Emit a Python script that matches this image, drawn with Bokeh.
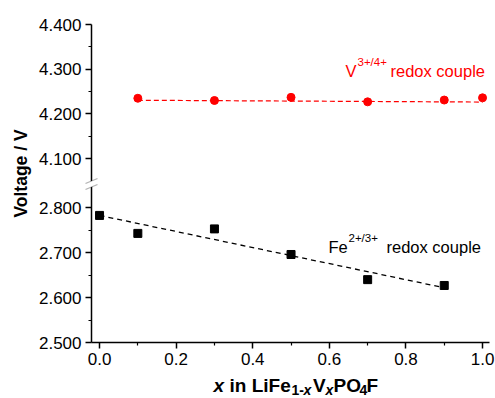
import math
from bokeh.plotting import figure
from bokeh.models import (Range1d, LinearAxis, FixedTicker, CustomJSTickFormatter,
                          Label, PolyAnnotation)
from bokeh.embed import file_html
from bokeh.resources import INLINE

# ---- data ----
x_fe = [0.0, 0.1, 0.3, 0.5, 0.7, 0.9]
v_fe = [2.783, 2.743, 2.753, 2.696, 2.640, 2.627]
x_v = [0.1, 0.3, 0.5, 0.7, 0.9, 1.0]
v_v = [4.235, 4.230, 4.237, 4.227, 4.231, 4.236]
fit_fe_x = [0.0, 0.9]
fit_fe_y = [2.783, 2.622]
fit_v_x = [0.1, 1.0]
fit_v_y = [4.2305, 4.2265]

x_major = [0.0, 0.2, 0.4, 0.6, 0.8, 1.0]
x_minor = [0.1, 0.3, 0.5, 0.7, 0.9]
y_low_major = [2.5, 2.6, 2.7, 2.8]
y_low_minor = [2.55, 2.65, 2.75]
y_high_major = [4.1, 4.2, 4.3, 4.4]
y_high_minor = [4.15, 4.25, 4.35]

# ---- layout (pixel geometry of the reference) ----
W, H = 495, 398
AX_L, AX_R, AX_T, AX_B = 91, 489, 24, 342
XS = 383.0     # px per x unit
YS_LO = 449.0  # px per volt, lower segment
YS_HI = 447.0  # px per volt, upper segment

def xd(px):
    return -0.021 + (px - AX_L) / XS

def yd(py):
    return 2.5 + (AX_B - py) / YS_LO

def ydh(py):
    return 4.4 - (py - AX_T) / YS_HI

def hi_to_lo(v):
    return yd(AX_T + (4.4 - v) * YS_HI)

p = figure(width=W, height=H,
           x_range=Range1d(xd(0), xd(W)), y_range=Range1d(yd(H), yd(0)),
           output_backend="svg", toolbar_location=None,
           x_axis_type=None, y_axis_type=None,
           min_border_left=0, min_border_right=0, min_border_top=0, min_border_bottom=0)
p.extra_y_ranges = {"top": Range1d(ydh(H), ydh(0))}
p.outline_line_color = None
p.background_fill_color = "white"
p.border_fill_color = "white"

FONT = "Liberation Sans"

xaxis = LinearAxis(ticker=FixedTicker(ticks=x_major, minor_ticks=x_minor),
                   formatter=CustomJSTickFormatter(code="return tick.toFixed(1);"),
                   fixed_location=2.5, bounds=(xd(AX_L), xd(AX_R)))
yaxis = LinearAxis(ticker=FixedTicker(ticks=y_low_major + [hi_to_lo(v) for v in y_high_major],
                                      minor_ticks=y_low_minor + [hi_to_lo(v) for v in y_high_minor]),
                   formatter=CustomJSTickFormatter(
                       args=dict(thr=yd(183), b=AX_B, t=AX_T, sl=YS_LO, sh=YS_HI),
                       code="""
                       if (tick < thr) { return tick.toFixed(3); }
                       const py = b - (tick - 2.5) * sl;
                       return (4.4 - (py - t) / sh).toFixed(3);
                   """),
                   fixed_location=xd(AX_L), bounds=(2.5, yd(AX_T)))
for ax in (xaxis, yaxis):
    ax.axis_line_width = 1.5
    ax.axis_line_color = "black"
    ax.major_tick_line_width = 1.5
    ax.minor_tick_line_width = 1.2
    ax.major_tick_out = 6
    ax.major_tick_in = 0
    ax.minor_tick_out = 3
    ax.minor_tick_in = 0
    ax.major_label_text_font = FONT
    ax.major_label_text_font_size = "17px"
    ax.major_label_text_color = "black"
    ax.major_label_standoff = 4
p.add_layout(xaxis, "below")
p.add_layout(yaxis, "left")

# ---- fits and points ----
p.line(fit_fe_x, fit_fe_y, line_color="black", line_width=1.3, line_dash="5 4")
p.scatter(x_fe, v_fe, marker="square", size=8, color="black")
p.line(fit_v_x, fit_v_y, line_color="red", line_width=1.2, line_dash="5 3", y_range_name="top")
p.scatter(x_v, v_v, marker="circle", size=8, color="red", y_range_name="top")

# ---- axis break marks ----
p.add_layout(PolyAnnotation(xs=[xd(85), xd(97), xd(97), xd(85)],
                            ys=[yd(183), yd(178), yd(184), yd(189)],
                            fill_color="white", fill_alpha=1.0, line_color=None))
for y_left, y_right in ((183, 178), (189, 184)):
    p.add_layout(PolyAnnotation(xs=[xd(85), xd(97)], ys=[yd(y_left), yd(y_right)],
                                fill_color=None, line_color="black", line_width=1.3))

def lab(text, px, py, size, color="black", style="normal", align="left", angle=0.0, baseline="alphabetic"):
    p.add_layout(Label(x=xd(px), y=yd(py), text=text, text_font=FONT, text_font_size=f"{size}px",
                       text_color=color, text_font_style=style, text_align=align,
                       text_baseline=baseline, angle=angle))

# series annotations
lab("V", 345, 70, 16.5, color="red")
lab("3+/4+", 357, 61, 11.5, color="red")
lab("redox couple", 390, 70, 16.5, color="red")
lab("Fe", 328, 246, 16.5)
lab("2+/3+", 348, 237, 11.5)
lab("redox couple", 386, 246, 16.5)

# axis titles
XB, XSB = 385, 389
lab("Voltage / V", 20, 173, 17.5, style="bold", align="center", angle=math.pi / 2, baseline="middle")
lab("x", 213, XB, 19, style="bold italic")
lab("in LiFe", 229, XB, 19, style="bold")
lab("1-", 291, XSB, 14, style="bold")
lab("x", 303, XSB, 14, style="bold italic")
lab("V", 312.5, XB, 19, style="bold")
lab("x", 325, XSB, 14, style="bold italic")
lab("PO", 333, XB, 19, style="bold")
lab("4", 359, XSB, 14, style="bold")
lab("F", 366, XB, 19, style="bold")

open("out.html", "w").write(file_html(p, INLINE))
